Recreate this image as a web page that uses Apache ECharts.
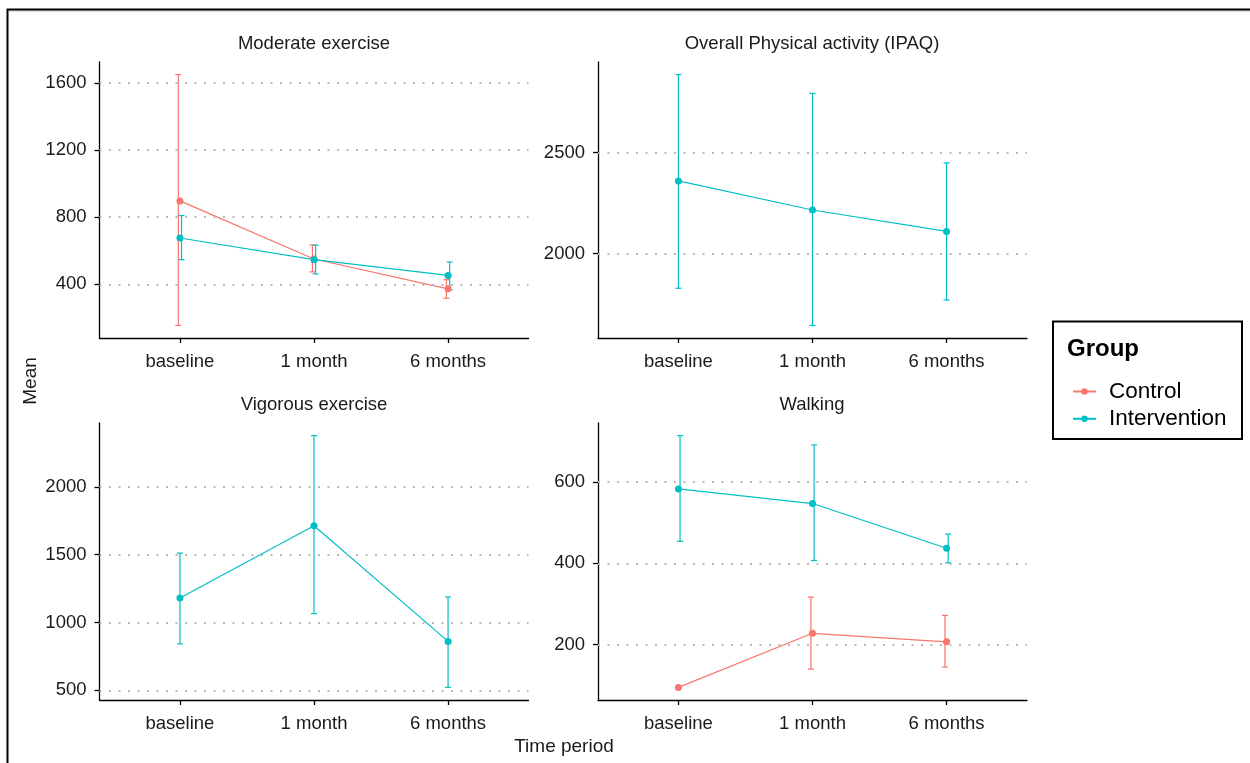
<!DOCTYPE html>
<html>
<head>
<meta charset="utf-8">
<script src="https://cdn.jsdelivr.net/npm/echarts@6/dist/echarts.min.js"></script>
<style>html,body{margin:0;padding:0;background:#fff}#c{width:1250px;height:763px}</style>
</head>
<body>
<div id="c"></div>
<script>
// ---- data ----
const timeLabels = ['baseline', '1 month', '6 months'];
const panelTitles = ['Moderate exercise', 'Overall Physical activity (IPAQ)', 'Vigorous exercise', 'Walking'];
const groups = ['Control', 'Intervention'];

const modTicks = [400, 800, 1200, 1600];
const ipaqTicks = [2000, 2500];
const vigTicks = [500, 1000, 1500, 2000];
const walkTicks = [200, 400, 600];

// Moderate exercise
const modCtrlMean = [897, 551, 373];
const modCtrlLow = [155, 474, 317];
const modCtrlHigh = [1650, 634, 428];
const modIntMean = [676, 547, 453];
const modIntLow = [547, 462, 368];
const modIntHigh = [810, 634, 533];

// Overall physical activity (IPAQ)
const ipaqIntMean = [2360, 2216, 2110];
const ipaqIntLow = [1829, 1645, 1771];
const ipaqIntHigh = [2886, 2793, 2449];

// Vigorous exercise
const vigIntMean = [1181, 1713, 861];
const vigIntLow = [843, 1066, 522];
const vigIntHigh = [1512, 2378, 1188];

// Walking
const walkCtrlMean = [95, 228, 207];
const walkCtrlLow = [null, 140, 145];
const walkCtrlHigh = [null, 317, 272];
const walkIntMean = [583, 547, 437];
const walkIntLow = [454, 407, 401];
const walkIntHigh = [714, 691, 472];

// ---- styling ----
const FONT = 'Liberation Sans, Arial, sans-serif';
const COL = { Control: '#F8766D', Intervention: '#00BFC4' };
const TXT = '#1a1a1a';

const panels = [
  { ticks: modTicks, dodge: true, series: [
    { g: 'Control', mean: modCtrlMean, low: modCtrlLow, high: modCtrlHigh },
    { g: 'Intervention', mean: modIntMean, low: modIntLow, high: modIntHigh } ] },
  { ticks: ipaqTicks, dodge: false, series: [
    { g: 'Intervention', mean: ipaqIntMean, low: ipaqIntLow, high: ipaqIntHigh } ] },
  { ticks: vigTicks, dodge: false, series: [
    { g: 'Intervention', mean: vigIntMean, low: vigIntLow, high: vigIntHigh } ] },
  { ticks: walkTicks, dodge: true, series: [
    { g: 'Control', mean: walkCtrlMean, low: walkCtrlLow, high: walkCtrlHigh },
    { g: 'Intervention', mean: walkIntMean, low: walkIntLow, high: walkIntHigh } ] }
];

const gridRects = [
  { left: 99.5, top: 62, width: 429, height: 276 },
  { left: 598, top: 62, width: 429, height: 276 },
  { left: 99.5, top: 423, width: 429, height: 277 },
  { left: 598, top: 423, width: 429, height: 277 }
];

function extentOf(p) {
  let lo = Infinity, hi = -Infinity;
  p.series.forEach(s => {
    [s.mean, s.low, s.high].forEach(arr => arr.forEach(v => {
      if (v != null) { lo = Math.min(lo, v); hi = Math.max(hi, v); }
    }));
  });
  const pad = (hi - lo) * 0.05;
  return [lo - pad, hi + pad];
}

function errRender(offset, color) {
  return function (params, api) {
    const x = api.value(0), lo = api.value(1), hi = api.value(2);
    const p1 = api.coord([x, lo]);
    const p2 = api.coord([x, hi]);
    const cx = p1[0] + offset, cap = 3;
    const st = { stroke: color, lineWidth: 1.2 };
    return { type: 'group', children: [
      { type: 'line', shape: { x1: cx, y1: p1[1], x2: cx, y2: p2[1] }, style: st },
      { type: 'line', shape: { x1: cx - cap, y1: p1[1], x2: cx + cap, y2: p1[1] }, style: st },
      { type: 'line', shape: { x1: cx - cap, y1: p2[1], x2: cx + cap, y2: p2[1] }, style: st }
    ] };
  };
}

const grid = [], xAxis = [], yAxis = [], series = [], graphic = [];

panels.forEach((p, k) => {
  grid.push(Object.assign({ containLabel: false }, gridRects[k]));
  xAxis.push({
    type: 'value', gridIndex: k, min: 0.4, max: 3.6,
    axisLine: { show: true, lineStyle: { color: '#000', width: 1.3 } },
    axisTick: { show: true, length: 5, customValues: [1, 2, 3], lineStyle: { color: '#000', width: 1.3 } },
    axisLabel: { customValues: [1, 2, 3], formatter: v => timeLabels[Math.round(v) - 1],
      margin: 14, fontSize: 18.5, fontFamily: FONT, color: TXT },
    splitLine: { show: false }
  });
  const ext = extentOf(p);
  yAxis.push({
    type: 'value', gridIndex: k, min: ext[0], max: ext[1],
    axisLine: { show: true, lineStyle: { color: '#000', width: 1.3 } },
    axisTick: { show: true, length: 5, customValues: p.ticks, lineStyle: { color: '#000', width: 1.3 } },
    axisLabel: { customValues: p.ticks, formatter: v => String(v), margin: 13,
      fontSize: 18.5, fontFamily: FONT, color: TXT },
    splitLine: { show: false }
  });
  // dotted horizontal grid lines
  series.push({
    type: 'line', name: 'grid' + k, xAxisIndex: k, yAxisIndex: k, data: [], silent: true, z: 1,
    markLine: { silent: true, symbol: 'none', animation: false, label: { show: false },
      lineStyle: { type: [2, 7.5], color: '#B8B8B8', width: 2 },
      emphasis: { disabled: true },
      data: p.ticks.map(t => ({ yAxis: t })) }
  });
  p.series.forEach(s => {
    series.push({
      type: 'line', name: s.g, xAxisIndex: k, yAxisIndex: k, z: 3,
      data: s.mean.map((v, i) => [i + 1, v]),
      symbol: 'circle', symbolSize: 7, showSymbol: true,
      lineStyle: { color: COL[s.g], width: 1.2 },
      itemStyle: { color: COL[s.g] },
      emphasis: { disabled: true }
    });
    const off = p.dodge ? (s.g === 'Control' ? -1.6 : 1.6) : 0;
    series.push({
      type: 'custom', name: s.g + ' error', xAxisIndex: k, yAxisIndex: k, z: 2,
      renderItem: errRender(off, COL[s.g]),
      encode: { x: 0, y: [1, 2] },
      data: s.low.map((v, i) => [i + 1, v, s.high[i]]).filter(d => d[1] != null)
    });
  });
});

// panel titles
const titlePos = [[314, 44], [812, 44], [314, 405], [812, 405]];
panelTitles.forEach((t, k) => {
  graphic.push({ type: 'text', x: titlePos[k][0], y: titlePos[k][1], z: 10,
    style: { text: t, font: '18.5px ' + FONT, fill: TXT, textAlign: 'center', textVerticalAlign: 'middle' } });
});
// axis titles
graphic.push({ type: 'text', x: 31, y: 381, rotation: Math.PI / 2, z: 10,
  style: { text: 'Mean', font: '19px ' + FONT, fill: TXT, textAlign: 'center', textVerticalAlign: 'middle' } });
graphic.push({ type: 'text', x: 564, y: 747, z: 10,
  style: { text: 'Time period', font: '19px ' + FONT, fill: TXT, textAlign: 'center', textVerticalAlign: 'middle' } });
// outer frame (top and left)
graphic.push({ type: 'polyline', z: 10, shape: { points: [[7.5, 763], [7.5, 9.5], [1250, 9.5]] },
  style: { stroke: '#000', lineWidth: 2, fill: null } });
graphic.push({ type: 'line', z: 9, shape: { x1: 8.5, y1: 11, x2: 1250, y2: 11 },
  style: { stroke: '#bbb', lineWidth: 1 } });
// legend box and title
graphic.push({ type: 'rect', z: 0, shape: { x: 1053, y: 321.5, width: 189, height: 117.5 },
  style: { fill: '#fff', stroke: '#000', lineWidth: 2 } });
graphic.push({ type: 'text', x: 1067, y: 349, z: 10,
  style: { text: 'Group', font: 'bold 24px ' + FONT, fill: '#000', textAlign: 'left', textVerticalAlign: 'middle' } });

const option = {
  animation: false,
  backgroundColor: '#fff',
  grid, xAxis, yAxis, series, graphic,
  legend: {
    data: groups, orient: 'vertical', left: 1067, top: 375,
    itemWidth: 23, itemHeight: 8, itemGap: 4.3,
    selectedMode: false,
    textStyle: { fontSize: 22.5, lineHeight: 23, fontFamily: FONT, color: '#000', padding: [0, 0, 0, 8] }
  }
};

const chart = echarts.init(document.getElementById('c'), null, { renderer: 'canvas' });
chart.setOption(option);
</script>
</body>
</html>
